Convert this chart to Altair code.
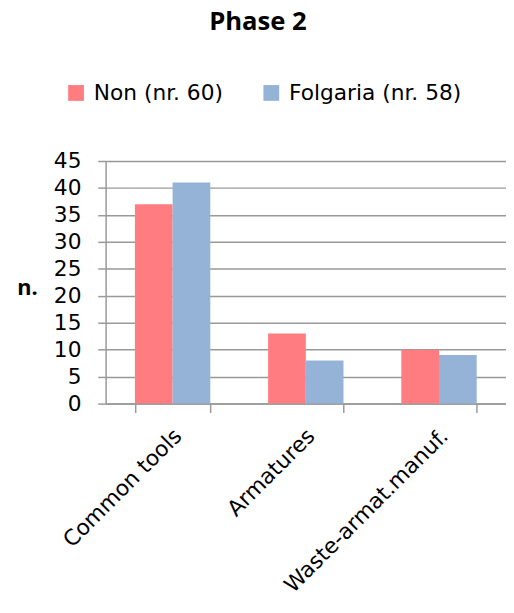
import altair as alt
import pandas as pd

categories = ["Common tools", "Armatures", "Waste-armat.manuf."]
series_names = ["Non (nr. 60)", "Folgaria (nr. 58)"]
non_values = [37, 13, 10]
folgaria_values = [41, 8, 9]
colors = ["#FF7C80", "#95B3D7"]
y_ticks = [0, 5, 10, 15, 20, 25, 30, 35, 40, 45]

rows = []
for c, v in zip(categories, non_values):
    rows.append({"category": c, "series": series_names[0], "value": v})
for c, v in zip(categories, folgaria_values):
    rows.append({"category": c, "series": series_names[1], "value": v})
df = pd.DataFrame(rows)

FONT = "DejaVu Sans"
BOLD_FONT = "Open Sans"

chart = alt.Chart(df).mark_bar().encode(
    x=alt.X("category:N", sort=categories,
            scale=alt.Scale(paddingInner=0.434, paddingOuter=0.22),
            axis=alt.Axis(title=None, labelAngle=-45, labelAlign="right",
                          labelBaseline="middle", labelPadding=20, labelLimit=0,
                          labelOffset=5,
                          labelFontSize=22, labelFont=FONT, labelColor="#000",
                          tickBand="extent", tickSize=9, tickColor="#999",
                          domainColor="#999", domainWidth=1.5, tickWidth=1.5,
                          grid=False)),
    xOffset=alt.XOffset("series:N", sort=series_names,
                        scale=alt.Scale(paddingInner=0, paddingOuter=0)),
    y=alt.Y("value:Q", scale=alt.Scale(domain=[0, 45], nice=False),
            axis=alt.Axis(values=y_ticks, title="n.", titleAngle=0,
                          titleFont=BOLD_FONT, titleFontSize=22, titleFontWeight="bold",
                          titleAlign="left", titleBaseline="middle",
                          titleX=-90, titleY=128, titleColor="#000",
                          labelFontSize=22, labelFont=FONT, labelColor="#000",
                          labelPadding=17, tickSize=8, tickColor="#999",
                          tickWidth=1.5, domainColor="#999", domainWidth=1.5,
                          grid=True, gridColor="#999", gridWidth=1.5)),
    color=alt.Color("series:N", sort=series_names,
                    scale=alt.Scale(domain=series_names, range=colors),
                    legend=alt.Legend(title=None, orient="none", direction="horizontal",
                                      legendX=-41, legendY=-80,
                                      symbolType="square", symbolSize=256,
                                      symbolStrokeWidth=0, symbolOpacity=1,
                                      labelFont=FONT, labelFontSize=22, labelLimit=400,
                                      labelColor="#000", labelOffset=7,
                                      columnPadding=38, padding=0)),
).properties(
    width=406,
    height=246,
    title=alt.TitleParams("Phase 2", font=BOLD_FONT, fontSize=26, fontWeight="bold",
                          color="#000", anchor="start", frame="group",
                          dx=105, offset=48),
    autosize=alt.AutoSizeParams(type="none"),
    padding={"left": 99, "top": 151, "right": 0, "bottom": 194},
).configure_view(stroke=None)

chart.save("out.html", embed_options={"renderer": "svg", "actions": False})
